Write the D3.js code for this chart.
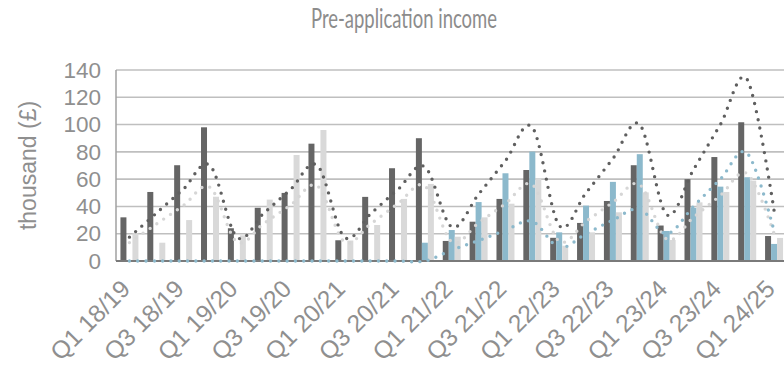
<!DOCTYPE html>
<html>
<head>
<meta charset="utf-8">
<script src="https://cdn.jsdelivr.net/npm/d3@7"></script>
<style>
  html, body { margin: 0; padding: 0; background: #ffffff; }
  svg { display: block; }
</style>
</head>
<body>
<svg id="chart" width="784" height="370"></svg>
<script>
// ---- data ----
const categories = [
  "Q1 18/19","Q2 18/19","Q3 18/19","Q4 18/19",
  "Q1 19/20","Q2 19/20","Q3 19/20","Q4 19/20",
  "Q1 20/21","Q2 20/21","Q3 20/21","Q4 20/21",
  "Q1 21/22","Q2 21/22","Q3 21/22","Q4 21/22",
  "Q1 22/23","Q2 22/23","Q3 22/23","Q4 22/23",
  "Q1 23/24","Q2 23/24","Q3 23/24","Q4 23/24",
  "Q1 24/25"
];
const darkBars  = [32, 50.6, 70.2, 98, 24, 39, 49.9, 86, 15.2, 47, 68, 90, 14.7, 28.8, 45.5, 66.7, 17, 27.9, 44, 70.2, 26, 60, 76.2, 101.7, 18.3];
const blueBars  = [0, 0, 0, 0, 0, 0, 0, 0, 0, 0, 0, 13.4, 22.7, 43.2, 64.3, 80.2, 21, 40.6, 58, 78.3, 22, 39, 54.5, 61.4, 12.5];
const lightBars = [20.3, 13.4, 30, 47.1, 18.8, 45, 77.7, 96, 15, 26.4, 45.5, 56.5, 17.8, 32, 42, 60.6, 11.2, 21, 35.7, 50.3, 15.4, 43, 50.6, 58.9, 16.9];
const darkLine  = [17.5, 35, 52.5, 70, 17.5, 35, 52.5, 70, 17.5, 35, 52.5, 69, 25, 49, 73.5, 98, 26, 50, 75, 100, 34, 67, 100, 133, 37];
const lightLine = [13.5, 27, 40.5, 54, 14, 27.5, 41, 55, 14, 27.5, 42, 55, 14, 28, 42, 56, 14.5, 29, 43, 56, 16, 32, 48, 64, 20];
const blueLine  = [0, 0, 0, 0, 0, 0, 0, 0, 0, 0, 0, 0, 8, 15, 22.5, 29, 10, 20, 30, 38, 20, 40, 60, 79, 22];
const yTicks = [0, 20, 40, 60, 80, 100, 120, 140];
const tickLabels = categories.filter((d, i) => i % 2 === 0);

// ---- styles ----
const colDark = "#656565", colBlue = "#8cb9cc", colLight = "#d9d9d9";
const colDarkLine = "#5f5f5f", colLightLine = "#d6d6d6", colBlueLine = "#8cb9cc";
const textCol = "#8f8f8f";

const svg = d3.select("#chart");
const plotLeft = 116, plotRight = 787.5, plotTop = 70, plotBottom = 261;

const x0 = d3.scaleBand().domain(categories).range([plotLeft, plotRight]).padding(0);
const keys = ["dark", "blue", "light"];
const x1 = d3.scaleBand().domain(keys).range([0, x0.bandwidth()]).paddingInner(0).paddingOuter(0.74);
const y = d3.scaleLinear().domain([0, 140]).range([plotBottom, plotTop]);

// title
svg.append("text")
  .attr("x", 404).attr("y", 28)
  .attr("text-anchor", "middle")
  .attr("font-family", "Lato, 'Open Sans', sans-serif")
  .attr("font-size", 26)
  .attr("textLength", 186)
  .attr("lengthAdjust", "spacingAndGlyphs")
  .attr("fill", "#8c8c8c")
  .text("Pre-application income");

// gridlines
svg.append("g").selectAll("line")
  .data(yTicks.filter(d => d > 0))
  .join("line")
  .attr("x1", plotLeft).attr("x2", plotRight)
  .attr("y1", d => y(d)).attr("y2", d => y(d))
  .attr("stroke", "#bfbfbf").attr("stroke-width", 1.6);

// y axis (labels only; line drawn separately)
const yAxis = d3.axisLeft(y).tickValues(yTicks).tickSize(0).tickPadding(15);
const gy = svg.append("g").attr("transform", `translate(${plotLeft},0)`).call(yAxis);
gy.select(".domain").remove();
gy.selectAll("text")
  .attr("font-family", "'Liberation Sans', Arial, sans-serif")
  .attr("font-size", 22.5)
  .attr("fill", textCol);

// y title
svg.append("text")
  .attr("transform", `translate(36,${(plotTop + plotBottom) / 2}) rotate(-90)`)
  .attr("text-anchor", "middle")
  .attr("font-family", "'Liberation Sans', Arial, sans-serif")
  .attr("font-size", 23)
  .attr("fill", textCol)
  .text("thousand (£)");

// bars
const series = { dark: darkBars, blue: blueBars, light: lightBars };
const colors = { dark: colDark, blue: colBlue, light: colLight };
const groups = svg.append("g").selectAll("g")
  .data(categories)
  .join("g")
  .attr("transform", d => `translate(${x0(d)},0)`);
groups.selectAll("rect")
  .data((d, i) => keys.map(k => ({ key: k, value: series[k][i] })))
  .join("rect")
  .attr("x", d => x1(d.key))
  .attr("width", x1.bandwidth())
  .attr("y", d => y(d.value))
  .attr("height", d => y(0) - y(d.value))
  .attr("fill", d => colors[d.key]);

// axis lines
svg.append("line").attr("x1", plotLeft).attr("x2", plotLeft).attr("y1", plotTop).attr("y2", plotBottom)
  .attr("stroke", "#a0a0a0").attr("stroke-width", 1.5);
const xAxis = d3.axisBottom(x0).tickValues(tickLabels).tickSize(0).tickPadding(0);
const gx = svg.append("g").attr("transform", `translate(0,${plotBottom})`).call(xAxis);
gx.select(".domain").attr("stroke", "#7a7a7a").attr("stroke-width", 2)
  .attr("d", `M${plotLeft},0H${plotRight}`);
gx.selectAll("text")
  .attr("font-family", "'Liberation Sans', Arial, sans-serif")
  .attr("font-size", 24.5)
  .attr("fill", textCol)
  .attr("text-anchor", "end")
  .attr("x", 0).attr("y", 0).attr("dy", 0)
  .attr("transform", "translate(2.3,29.4) rotate(-45)");

// dotted lines
const cx = d => x0(d) + x0.bandwidth() / 2;
const lineGen = vals => d3.line()
  .x((d, i) => cx(categories[i]))
  .y(d => y(d))
  .curve(d3.curveCatmullRom.alpha(0))(vals);
[[lightLine, colLightLine], [blueLine, colBlueLine], [darkLine, colDarkLine]].forEach(([vals, c]) => {
  svg.append("path")
    .attr("d", lineGen(vals))
    .attr("fill", "none")
    .attr("stroke", c)
    .attr("stroke-width", 3.4)
    .attr("stroke-linecap", "round")
    .attr("stroke-dasharray", "0 8.3");
});
</script>
</body>
</html>
